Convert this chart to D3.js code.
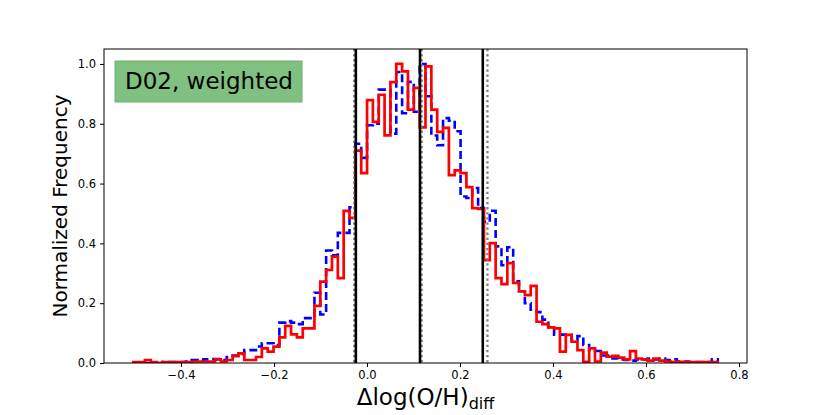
<!DOCTYPE html>
<html>
<head>
<meta charset="utf-8">
<script src="https://cdn.jsdelivr.net/npm/d3@7"></script>
<style>
html,body{margin:0;padding:0;background:#fff;}
svg{display:block;font-family:"DejaVu Sans",sans-serif;}
</style>
</head>
<body>
<svg id="chart" width="830" height="415"></svg>
<script>
// ---- data ----
const binStart = -0.5027;
const binWidth = 0.01257;
const redValues = [
 0.003,0.003,0.010,0.003,0.000,0.003,0.003,0.003,0.003,0.003,
 0.005,0.005,0.005,0.005,0.012,0.005,0.010,0.023,0.032,0.010,
 0.010,0.020,0.049,0.038,0.055,0.086,0.124,0.096,0.086,0.116,
 0.116,0.191,0.272,0.311,0.356,0.284,0.509,0.485,0.710,0.635,
 0.879,0.806,0.897,0.761,0.939,1.000,0.975,0.847,0.920,0.788,
 0.992,0.847,0.773,0.786,0.628,0.644,0.635,0.588,0.518,0.515,
 0.344,0.401,0.284,0.264,0.334,0.268,0.240,0.227,0.258,0.138,
 0.130,0.119,0.116,0.038,0.094,0.071,0.043,0.004,0.049,0.005,
 0.035,0.021,0.024,0.018,0.012,0.040,0.015,0.012,0.008,0.015,
 0.008,0.005,0.003,0.004,0.003,0.003,0.003,0.003,0.003,0.003
];
const blueValues = [
 0.000,0.000,0.000,0.000,0.000,0.003,0.003,0.003,0.003,0.005,
 0.010,0.008,0.012,0.013,0.013,0.010,0.020,0.025,0.030,0.043,
 0.043,0.055,0.066,0.066,0.060,0.135,0.140,0.135,0.130,0.150,
 0.150,0.235,0.162,0.376,0.360,0.435,0.435,0.521,0.733,0.686,
 0.795,0.800,0.914,0.914,0.767,0.973,0.835,0.940,0.840,1.000,
 0.892,0.761,0.728,0.819,0.810,0.775,0.557,0.552,0.585,0.518,
 0.472,0.509,0.390,0.327,0.387,0.273,0.240,0.200,0.178,0.170,
 0.145,0.120,0.095,0.095,0.094,0.075,0.090,0.060,0.043,0.040,
 0.025,0.025,0.015,0.012,0.010,0.008,0.012,0.012,0.015,0.012,
 0.015,0.010,0.012,0.005,0.005,0.003,0.003,0.003,0.003,0.012
];
const solidLines = [-0.024, 0.114, 0.249];
const dottedLines = [-0.0275, 0.1175, 0.259];
const xTicks = [-0.4, -0.2, 0.0, 0.2, 0.4, 0.6, 0.8];
const xTickLabels = ["\u22120.4","\u22120.2","0.0","0.2","0.4","0.6","0.8"];
const yTicks = [0.0, 0.2, 0.4, 0.6, 0.8, 1.0];
const yTickLabels = ["0.0","0.2","0.4","0.6","0.8","1.0"];
const xDomain = [-0.5656, 0.8172];
const yDomain = [0, 1.05];
const boxLabel = "D02, weighted";

// ---- layout ----
const L = 104, R = 747, T = 49, B = 363;
const svg = d3.select("#chart");
const x = d3.scaleLinear().domain(xDomain).range([L, R]);
const y = d3.scaleLinear().domain(yDomain).range([B, T]);

svg.append("defs").append("clipPath").attr("id","clip")
  .append("rect").attr("x",L).attr("y",T).attr("width",R-L).attr("height",B-T);

function stepPoints(vals){
  const pts = [[binStart, 0]];
  vals.forEach((v,i)=>{
    const x0 = binStart + i*binWidth, x1 = binStart + (i+1)*binWidth;
    pts.push([x0, v]); pts.push([x1, v]);
  });
  pts.push([binStart + vals.length*binWidth, 0]);
  return pts;
}
const line = d3.line().x(d=>x(d[0])).y(d=>y(d[1]));

const g = svg.append("g").attr("clip-path","url(#clip)");
g.append("path").attr("d", line(stepPoints(blueValues)))
  .attr("fill","none").attr("stroke","#0000ff").attr("stroke-width",2.6)
  .attr("stroke-dasharray","8,4").attr("stroke-linejoin","miter");
g.append("path").attr("d", line(stepPoints(redValues)))
  .attr("fill","none").attr("stroke","#ff0000").attr("stroke-width",2.7)
  .attr("stroke-linejoin","miter");

g.selectAll("line.dot").data(dottedLines).enter().append("line")
  .attr("x1",d=>x(d)).attr("x2",d=>x(d)).attr("y1",T).attr("y2",B)
  .attr("stroke","#808080").attr("stroke-width",2.3).attr("stroke-dasharray","2.3,2.8");
g.selectAll("line.solid").data(solidLines).enter().append("line")
  .attr("x1",d=>x(d)).attr("x2",d=>x(d)).attr("y1",T).attr("y2",B)
  .attr("stroke","#000").attr("stroke-width",2.6);

// axes
const xAxis = d3.axisBottom(x).tickValues(xTicks).tickFormat((d,i)=>xTickLabels[i]).tickSizeOuter(0).tickSize(4).tickPadding(4);
const yAxis = d3.axisLeft(y).tickValues(yTicks).tickFormat((d,i)=>yTickLabels[i]).tickSizeOuter(0).tickSize(4).tickPadding(4);
const gx = svg.append("g").attr("transform",`translate(0,${B})`).call(xAxis);
const gy = svg.append("g").attr("transform",`translate(${L},0)`).call(yAxis);
[gx,gy].forEach(a=>{
  a.select(".domain").remove();
  a.selectAll("text").attr("font-size","11.5px").attr("font-family","DejaVu Sans").attr("fill","#000");
  a.selectAll("line").attr("stroke","#000").attr("stroke-width",1);
});

// frame
svg.append("rect").attr("x",L).attr("y",T).attr("width",R-L).attr("height",B-T)
  .attr("fill","none").attr("stroke","#000").attr("stroke-width",1);

// labels
svg.append("text").attr("transform",`translate(67,${(T+B)/2}) rotate(-90)`)
  .attr("text-anchor","middle").attr("font-size","20px").attr("fill","#000")
  .text("Normalized Frequency");
const xl = svg.append("text").attr("x",(L+R)/2).attr("y",405)
  .attr("text-anchor","middle").attr("font-size","23px").attr("fill","#000");
xl.append("tspan").text("\u0394log(O/H)");
xl.append("tspan").attr("font-size","16px").attr("dy","4").text("diff");

// text box
svg.append("rect").attr("x",115).attr("y",61).attr("width",187).attr("height",41)
  .attr("fill","#80c080").attr("stroke","#6ab46a").attr("stroke-width",1);
svg.append("text").attr("x",125).attr("y",89).attr("font-size","23px").attr("fill","#000")
  .text(boxLabel);
</script>
</body>
</html>
